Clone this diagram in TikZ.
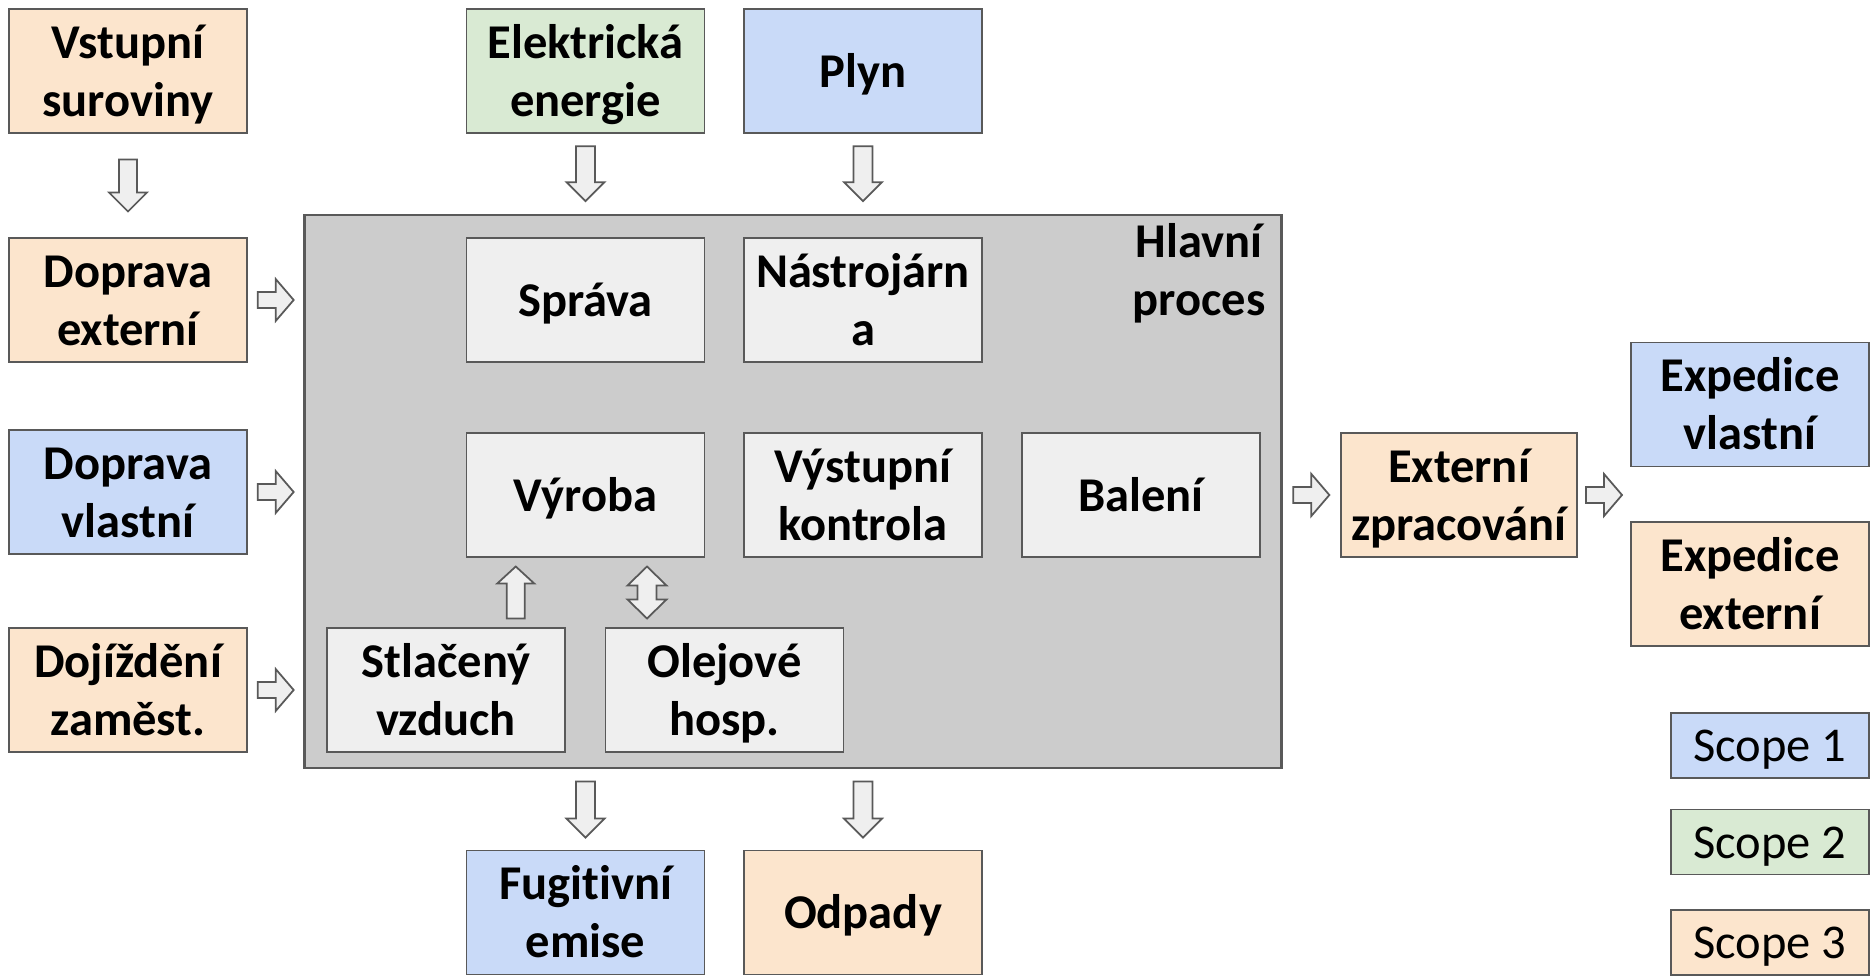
\documentclass[tikz,border=0pt]{standalone}
\usepackage{fontspec}
\setmainfont{Carlito}[Ligatures=NoCommon]
\usetikzlibrary{calc}

\definecolor{scopeblue}{HTML}{C9DAF8}
\definecolor{scopegreen}{HTML}{D9EAD3}
\definecolor{scopepeach}{HTML}{FCE5CD}
\definecolor{procgray}{HTML}{CCCCCC}
\definecolor{unitgray}{HTML}{EFEFEF}
\definecolor{edgegray}{HTML}{595959}

\tikzset{
  arrowbox/.style={draw=edgegray, fill=unitgray, line width=0.5pt, line join=miter},
  % length, shaft width, head width, head length
  pics/flowarrow/.style n args={4}{code={
    \draw[arrowbox] (-#1/2,-#2/2) -- (#1/2-#4,-#2/2) -- (#1/2-#4,-#3/2) -- (#1/2,0)
      -- (#1/2-#4,#3/2) -- (#1/2-#4,#2/2) -- (-#1/2,#2/2) -- cycle;}},
  pics/twoarrow/.style n args={4}{code={
    \draw[arrowbox] (-#1/2,0) -- (-#1/2+#4,-#3/2) -- (-#1/2+#4,-#2/2) -- (#1/2-#4,-#2/2)
      -- (#1/2-#4,-#3/2) -- (#1/2,0) -- (#1/2-#4,#3/2) -- (#1/2-#4,#2/2)
      -- (-#1/2+#4,#2/2) -- (-#1/2+#4,#3/2) -- cycle;}},
  % line box like a slide text frame (#1 = extra lines above the last one)
  slidetext/.style={execute at begin node={\rule{0pt}{\dimexpr0.92em+#1\relax}},
    execute at end node={\rule[-0.25em]{0pt}{0.25em}}},
  slidetext/.default=0pt,
  twoline/.style={slidetext=16.4pt}
}

\begin{document}
\begin{tikzpicture}[x=0.01cm, y=-0.01cm,
  every node/.style={font=\fontsize{13.8}{16.4}\selectfont},
  unit/.style={draw=edgegray, line width=0.45pt, minimum width=2.38cm, minimum height=1.24cm,
    align=center, inner sep=0pt, slidetext, font=\fontsize{13.8}{16.4}\selectfont\bfseries},
  sone/.style={unit, fill=scopeblue},
  stwo/.style={unit, fill=scopegreen},
  sthree/.style={unit, fill=scopepeach},
  inner/.style={unit, fill=unitgray},
  legend/.style={draw=edgegray, line width=0.45pt, minimum width=1.98cm, minimum height=0.65cm, inner sep=0pt, slidetext}]

\useasboundingbox (0,0) rectangle (1870,976);

% main process
\node[draw=edgegray, line width=0.7pt, fill=procgray, minimum width=9.76cm, minimum height=5.53cm] (main) at (793,491.5) {};
\node[align=center, inner sep=0pt, font=\fontsize{13.8}{16.6}\selectfont\bfseries] (hlavni) at (1199,273) {Hlavní\\proces};

% inputs
\node[sthree, twoline] (vstup) at (128,71) {Vstupní\\suroviny};
\node[stwo, twoline] (elek) at (585.5,71) {Elektrická\\energie};
\node[sone] (plyn) at (863,71) {Plyn};
\node[sthree, twoline] (dopext) at (128,300) {Doprava\\externí};
\node[sone, twoline] (dopvl) at (128,492) {Doprava\\vlastní};
\node[sthree, twoline] (dojizd) at (128,690) {Dojíždění\\zaměst.};

% inside
\node[inner] (sprava) at (585.5,300) {Správa};
\node[inner, twoline] (nastroj) at (863,300) {Nástrojárn\\a};
\node[inner] (vyroba) at (585.5,495) {Výroba};
\node[inner, twoline] (vystup) at (863,495) {Výstupní\\kontrola};
\node[inner] (baleni) at (1141,495) {Balení};
\node[inner, twoline] (stlac) at (446,690) {Stlačený\\vzduch};
\node[inner, twoline] (olej) at (724.5,690) {Olejové\\hosp.};

% outputs
\node[sone, twoline] (fugit) at (585.5,912.5) {Fugitivní\\emise};
\node[sthree] (odpady) at (863,912.5) {Odpady};
\node[sthree, twoline, minimum width=2.36cm] (extzpr) at (1459,495) {Externí\\zpracování};
\node[sone, twoline] (expvl) at (1750,404.5) {Expedice\\vlastní};
\node[sthree, twoline] (expext) at (1750,584) {Expedice\\externí};

% legend
\node[legend, fill=scopeblue] (leg1) at (1770,745.5) {Scope 1};
\node[legend, fill=scopegreen] (leg2) at (1770,842) {Scope 2};
\node[legend, fill=scopepeach] (leg3) at (1770,942.5) {Scope 3};

% arrows
\pic[rotate=-90] at ($(vstup.south)!0.5!(dopext.north)$) {flowarrow={52}{18}{38}{19}};
\pic[rotate=-90] at ($(elek.south)!0.5!(elek.south |- main.north)$) {flowarrow={55}{19}{38}{19}};
\pic[rotate=-90] at ($(plyn.south)!0.5!(plyn.south |- main.north)$) {flowarrow={55}{19}{38}{19}};
\pic at ($(dopext.east)!0.5!(dopext.east -| main.west)$) {flowarrow={36}{16}{42}{18}};
\pic at ($(dopvl.east)!0.5!(dopvl.east -| main.west)$) {flowarrow={36}{16}{42}{18}};
\pic at ($(dojizd.east)!0.5!(dojizd.east -| main.west)$) {flowarrow={36}{16}{42}{18}};
\pic at ($(main.east |- extzpr.west)!0.5!(extzpr.west)$) {flowarrow={36}{16}{42}{18}};
\pic at ($(extzpr.east)!0.5!(extzpr.east -| expvl.west)$) {flowarrow={36}{16}{42}{18}};
\pic[rotate=90] at ($(stlac.north east)!0.5!(vyroba.south west)$) {flowarrow={52}{18}{37}{17}};
\pic[rotate=90] at ($(vyroba.south)!0.5!(olej.north)+(-8,0)$) {twoarrow={52}{19}{39}{19}};
\pic[rotate=-90] at ($(fugit.north |- main.south)!0.5!(fugit.north)$) {flowarrow={56}{19}{38}{19}};
\pic[rotate=-90] at ($(odpady.north |- main.south)!0.5!(odpady.north)$) {flowarrow={56}{19}{38}{19}};

\end{tikzpicture}
\end{document}
